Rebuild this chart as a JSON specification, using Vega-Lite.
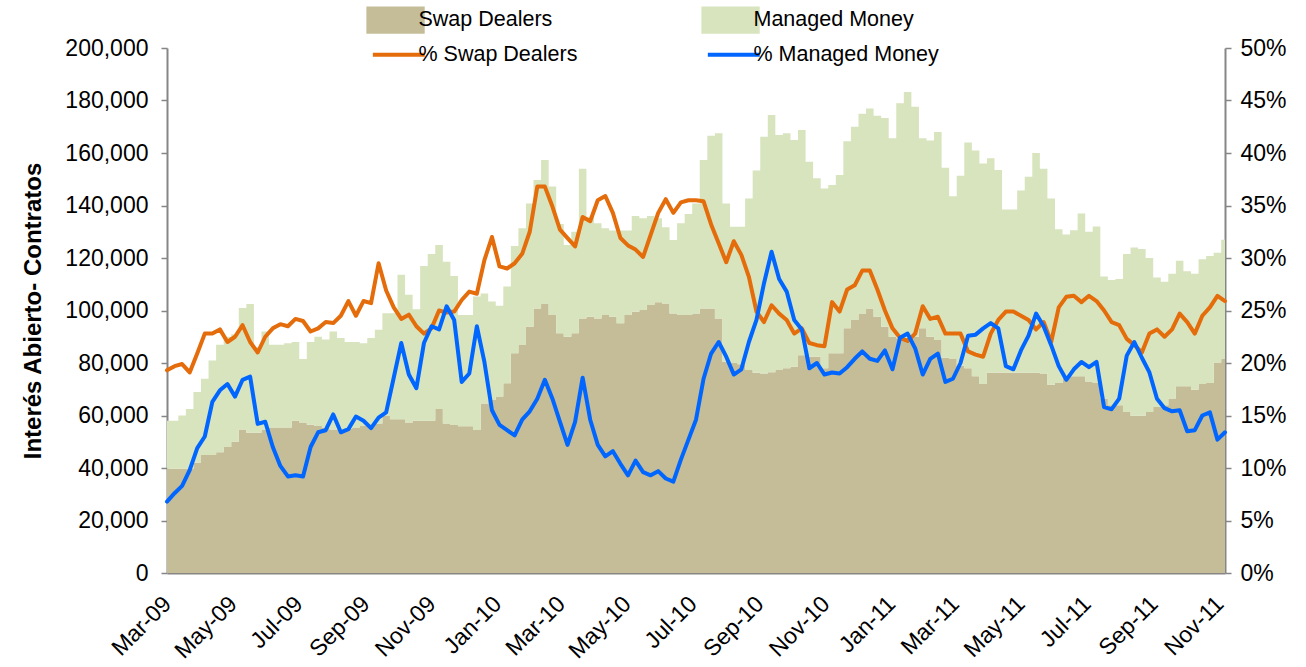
{
  "$schema": "https://vega.github.io/schema/vega-lite/v6.json",
  "width": 1058,
  "height": 525,
  "autosize": {"type": "none"},
  "padding": {"left": 167, "top": 48, "right": 81, "bottom": 94},
  "background": "white",
  "config": {
    "font": "Liberation Sans",
    "view": {"stroke": null},
    "axis": {"grid": false, "labelColor": "#000", "titleColor": "#000", "labelFont": "Liberation Sans", "titleFont": "Liberation Sans"}
  },
  "data": {"values": [
    {"date":"2009-03-03","sd":39700,"mm":18300,"psd":19.3,"pmm":6.8},
    {"date":"2009-03-10","sd":39700,"mm":18300,"psd":19.7,"pmm":7.6},
    {"date":"2009-03-17","sd":39700,"mm":20300,"psd":19.9,"pmm":8.3},
    {"date":"2009-03-24","sd":39700,"mm":22800,"psd":19.1,"pmm":9.8},
    {"date":"2009-03-31","sd":42000,"mm":27000,"psd":20.9,"pmm":11.9},
    {"date":"2009-04-07","sd":45000,"mm":29000,"psd":22.8,"pmm":13.0},
    {"date":"2009-04-14","sd":45000,"mm":36000,"psd":22.8,"pmm":16.3},
    {"date":"2009-04-21","sd":46000,"mm":41000,"psd":23.2,"pmm":17.4},
    {"date":"2009-04-28","sd":48000,"mm":42000,"psd":22.0,"pmm":18.0},
    {"date":"2009-05-05","sd":50000,"mm":41000,"psd":22.5,"pmm":16.8},
    {"date":"2009-05-12","sd":54700,"mm":46300,"psd":23.6,"pmm":18.4},
    {"date":"2009-05-19","sd":53400,"mm":49100,"psd":22.0,"pmm":18.7},
    {"date":"2009-05-26","sd":53400,"mm":32600,"psd":21.0,"pmm":14.2},
    {"date":"2009-06-02","sd":54700,"mm":37300,"psd":22.5,"pmm":14.4},
    {"date":"2009-06-09","sd":55400,"mm":31600,"psd":23.3,"pmm":12.0},
    {"date":"2009-06-16","sd":55400,"mm":31600,"psd":23.7,"pmm":10.2},
    {"date":"2009-06-23","sd":55400,"mm":32100,"psd":23.5,"pmm":9.2},
    {"date":"2009-06-30","sd":58000,"mm":30000,"psd":24.2,"pmm":9.3},
    {"date":"2009-07-07","sd":57300,"mm":24200,"psd":24.0,"pmm":9.2},
    {"date":"2009-07-14","sd":56500,"mm":31500,"psd":23.0,"pmm":12.0},
    {"date":"2009-07-21","sd":56000,"mm":34000,"psd":23.3,"pmm":13.4},
    {"date":"2009-07-28","sd":55400,"mm":33600,"psd":23.9,"pmm":13.6},
    {"date":"2009-08-04","sd":54700,"mm":37300,"psd":23.8,"pmm":15.1},
    {"date":"2009-08-11","sd":54700,"mm":34800,"psd":24.5,"pmm":13.4},
    {"date":"2009-08-18","sd":55000,"mm":33000,"psd":25.9,"pmm":13.7},
    {"date":"2009-08-25","sd":55400,"mm":32600,"psd":24.5,"pmm":14.9},
    {"date":"2009-09-01","sd":56000,"mm":31500,"psd":25.9,"pmm":14.5},
    {"date":"2009-09-08","sd":56000,"mm":33500,"psd":25.7,"pmm":13.8},
    {"date":"2009-09-15","sd":57000,"mm":35700,"psd":29.5,"pmm":14.8},
    {"date":"2009-09-22","sd":60000,"mm":39000,"psd":26.9,"pmm":15.3},
    {"date":"2009-09-29","sd":58600,"mm":40400,"psd":25.3,"pmm":18.6},
    {"date":"2009-10-06","sd":58600,"mm":55000,"psd":24.2,"pmm":21.9},
    {"date":"2009-10-13","sd":57300,"mm":48700,"psd":24.6,"pmm":18.9},
    {"date":"2009-10-20","sd":58000,"mm":42500,"psd":23.5,"pmm":17.6},
    {"date":"2009-10-27","sd":58000,"mm":59000,"psd":22.8,"pmm":21.9},
    {"date":"2009-11-03","sd":58000,"mm":63500,"psd":23.3,"pmm":23.5},
    {"date":"2009-11-10","sd":62500,"mm":62500,"psd":25.0,"pmm":23.2},
    {"date":"2009-11-17","sd":57000,"mm":61600,"psd":24.8,"pmm":25.4},
    {"date":"2009-11-24","sd":56400,"mm":56700,"psd":24.9,"pmm":24.1},
    {"date":"2009-12-01","sd":55900,"mm":42400,"psd":26.0,"pmm":18.2},
    {"date":"2009-12-08","sd":55900,"mm":42400,"psd":26.8,"pmm":19.0},
    {"date":"2009-12-15","sd":54500,"mm":50800,"psd":26.6,"pmm":23.5},
    {"date":"2009-12-22","sd":64600,"mm":41900,"psd":29.8,"pmm":20.1},
    {"date":"2009-12-29","sd":65900,"mm":37500,"psd":32.0,"pmm":15.5},
    {"date":"2010-01-05","sd":67200,"mm":34600,"psd":29.2,"pmm":14.1},
    {"date":"2010-01-12","sd":72300,"mm":36800,"psd":29.0,"pmm":13.6},
    {"date":"2010-01-19","sd":83700,"mm":40900,"psd":29.5,"pmm":13.1},
    {"date":"2010-01-26","sd":86900,"mm":44400,"psd":30.4,"pmm":14.6},
    {"date":"2010-02-02","sd":93800,"mm":47000,"psd":32.5,"pmm":15.4},
    {"date":"2010-02-09","sd":100800,"mm":48900,"psd":36.8,"pmm":16.6},
    {"date":"2010-02-16","sd":102700,"mm":54600,"psd":36.8,"pmm":18.4},
    {"date":"2010-02-23","sd":98300,"mm":48900,"psd":34.9,"pmm":16.6},
    {"date":"2010-03-02","sd":91300,"mm":41700,"psd":32.7,"pmm":14.4},
    {"date":"2010-03-09","sd":90000,"mm":35000,"psd":31.9,"pmm":12.2},
    {"date":"2010-03-16","sd":91300,"mm":38700,"psd":31.1,"pmm":14.4},
    {"date":"2010-03-23","sd":97000,"mm":57000,"psd":33.9,"pmm":18.6},
    {"date":"2010-03-30","sd":97600,"mm":38100,"psd":33.5,"pmm":14.6},
    {"date":"2010-04-06","sd":97000,"mm":36200,"psd":35.5,"pmm":12.2},
    {"date":"2010-04-13","sd":98300,"mm":33000,"psd":35.9,"pmm":11.1},
    {"date":"2010-04-20","sd":97600,"mm":32900,"psd":34.3,"pmm":11.6},
    {"date":"2010-04-27","sd":95100,"mm":35400,"psd":31.9,"pmm":10.4},
    {"date":"2010-05-04","sd":98300,"mm":32200,"psd":31.2,"pmm":9.3},
    {"date":"2010-05-11","sd":99500,"mm":36500,"psd":30.8,"pmm":10.7},
    {"date":"2010-05-18","sd":100200,"mm":34900,"psd":30.1,"pmm":9.6},
    {"date":"2010-05-25","sd":102100,"mm":33900,"psd":32.2,"pmm":9.3},
    {"date":"2010-06-01","sd":103100,"mm":32000,"psd":34.3,"pmm":9.7},
    {"date":"2010-06-08","sd":102700,"mm":29000,"psd":35.6,"pmm":9.0},
    {"date":"2010-06-15","sd":98900,"mm":28000,"psd":34.3,"pmm":8.7},
    {"date":"2010-06-22","sd":98300,"mm":34900,"psd":35.3,"pmm":10.8},
    {"date":"2010-06-29","sd":98300,"mm":38500,"psd":35.5,"pmm":12.7},
    {"date":"2010-07-06","sd":98900,"mm":41900,"psd":35.5,"pmm":14.6},
    {"date":"2010-07-13","sd":100800,"mm":56500,"psd":35.4,"pmm":18.5},
    {"date":"2010-07-20","sd":100800,"mm":65800,"psd":33.2,"pmm":20.9},
    {"date":"2010-07-27","sd":97000,"mm":70500,"psd":31.4,"pmm":22.0},
    {"date":"2010-08-03","sd":80500,"mm":60300,"psd":29.6,"pmm":20.6},
    {"date":"2010-08-10","sd":80000,"mm":51900,"psd":31.6,"pmm":18.9},
    {"date":"2010-08-17","sd":79500,"mm":52400,"psd":30.3,"pmm":19.4},
    {"date":"2010-08-24","sd":77300,"mm":65400,"psd":28.2,"pmm":22.0},
    {"date":"2010-08-31","sd":76300,"mm":77000,"psd":24.9,"pmm":24.1},
    {"date":"2010-09-07","sd":76000,"mm":90200,"psd":23.9,"pmm":27.6},
    {"date":"2010-09-14","sd":76500,"mm":98000,"psd":25.5,"pmm":30.6},
    {"date":"2010-09-21","sd":77300,"mm":89600,"psd":24.7,"pmm":28.0},
    {"date":"2010-09-28","sd":78000,"mm":89500,"psd":24.1,"pmm":26.8},
    {"date":"2010-10-05","sd":78600,"mm":86400,"psd":22.8,"pmm":24.1},
    {"date":"2010-10-12","sd":83000,"mm":85800,"psd":23.3,"pmm":23.2},
    {"date":"2010-10-19","sd":82400,"mm":74300,"psd":21.9,"pmm":19.5},
    {"date":"2010-10-26","sd":82400,"mm":68000,"psd":21.7,"pmm":20.0},
    {"date":"2010-11-02","sd":78000,"mm":68500,"psd":21.6,"pmm":18.9},
    {"date":"2010-11-09","sd":83700,"mm":64100,"psd":25.8,"pmm":19.1},
    {"date":"2010-11-16","sd":83700,"mm":67900,"psd":24.9,"pmm":19.0},
    {"date":"2010-11-23","sd":93200,"mm":71300,"psd":27.0,"pmm":19.6},
    {"date":"2010-11-30","sd":96400,"mm":73600,"psd":27.4,"pmm":20.4},
    {"date":"2010-12-07","sd":98900,"mm":76100,"psd":28.8,"pmm":21.1},
    {"date":"2010-12-14","sd":100800,"mm":76200,"psd":28.8,"pmm":20.4},
    {"date":"2010-12-21","sd":97600,"mm":76600,"psd":27.0,"pmm":20.2},
    {"date":"2010-12-28","sd":93800,"mm":79500,"psd":25.0,"pmm":21.2},
    {"date":"2011-01-04","sd":90000,"mm":75600,"psd":23.3,"pmm":19.4},
    {"date":"2011-01-11","sd":89400,"mm":89600,"psd":22.4,"pmm":22.4},
    {"date":"2011-01-18","sd":89400,"mm":93800,"psd":22.1,"pmm":22.8},
    {"date":"2011-01-25","sd":90000,"mm":87600,"psd":22.8,"pmm":21.4},
    {"date":"2011-02-01","sd":93200,"mm":72400,"psd":25.4,"pmm":18.9},
    {"date":"2011-02-08","sd":90000,"mm":74800,"psd":24.2,"pmm":20.4},
    {"date":"2011-02-15","sd":88800,"mm":79200,"psd":24.4,"pmm":20.9},
    {"date":"2011-02-22","sd":82000,"mm":72400,"psd":22.8,"pmm":18.2},
    {"date":"2011-03-01","sd":81500,"mm":62000,"psd":22.8,"pmm":18.5},
    {"date":"2011-03-08","sd":79000,"mm":72300,"psd":22.8,"pmm":20.0},
    {"date":"2011-03-15","sd":78000,"mm":86000,"psd":21.1,"pmm":22.6},
    {"date":"2011-03-22","sd":75000,"mm":86000,"psd":20.8,"pmm":22.7},
    {"date":"2011-03-29","sd":72000,"mm":84000,"psd":20.6,"pmm":23.3},
    {"date":"2011-04-05","sd":76300,"mm":81700,"psd":22.8,"pmm":23.8},
    {"date":"2011-04-12","sd":76300,"mm":77200,"psd":24.1,"pmm":23.3},
    {"date":"2011-04-19","sd":76300,"mm":62200,"psd":24.9,"pmm":19.7},
    {"date":"2011-04-26","sd":76300,"mm":62200,"psd":24.9,"pmm":19.4},
    {"date":"2011-05-03","sd":76300,"mm":69400,"psd":24.5,"pmm":21.2},
    {"date":"2011-05-10","sd":76300,"mm":74700,"psd":24.1,"pmm":22.6},
    {"date":"2011-05-17","sd":76300,"mm":83700,"psd":23.2,"pmm":24.7},
    {"date":"2011-05-24","sd":76000,"mm":78000,"psd":23.9,"pmm":23.5},
    {"date":"2011-05-31","sd":71700,"mm":71000,"psd":22.0,"pmm":21.7},
    {"date":"2011-06-07","sd":72400,"mm":58600,"psd":25.3,"pmm":19.7},
    {"date":"2011-06-14","sd":75000,"mm":54000,"psd":26.3,"pmm":18.4},
    {"date":"2011-06-21","sd":75000,"mm":55600,"psd":26.4,"pmm":19.4},
    {"date":"2011-06-28","sd":75000,"mm":62000,"psd":25.8,"pmm":20.1},
    {"date":"2011-07-05","sd":73000,"mm":57000,"psd":26.4,"pmm":19.6},
    {"date":"2011-07-12","sd":72400,"mm":59600,"psd":25.9,"pmm":20.1},
    {"date":"2011-07-19","sd":66500,"mm":46500,"psd":25.0,"pmm":15.8},
    {"date":"2011-07-26","sd":63900,"mm":47700,"psd":23.9,"pmm":15.6},
    {"date":"2011-08-02","sd":63900,"mm":48100,"psd":23.6,"pmm":16.6},
    {"date":"2011-08-09","sd":61300,"mm":60200,"psd":22.3,"pmm":20.7},
    {"date":"2011-08-16","sd":59900,"mm":64100,"psd":21.7,"pmm":22.0},
    {"date":"2011-08-23","sd":59900,"mm":63500,"psd":21.0,"pmm":20.5},
    {"date":"2011-08-30","sd":61300,"mm":58700,"psd":22.8,"pmm":19.1},
    {"date":"2011-09-06","sd":63200,"mm":49400,"psd":23.2,"pmm":16.6},
    {"date":"2011-09-13","sd":63900,"mm":47100,"psd":22.5,"pmm":15.7},
    {"date":"2011-09-20","sd":66500,"mm":47500,"psd":23.2,"pmm":15.4},
    {"date":"2011-09-27","sd":71100,"mm":47900,"psd":24.7,"pmm":15.5},
    {"date":"2011-10-04","sd":71100,"mm":43900,"psd":23.9,"pmm":13.5},
    {"date":"2011-10-11","sd":69800,"mm":44200,"psd":22.8,"pmm":13.6},
    {"date":"2011-10-18","sd":72000,"mm":47500,"psd":24.5,"pmm":15.0},
    {"date":"2011-10-25","sd":72400,"mm":48400,"psd":25.3,"pmm":15.3},
    {"date":"2011-11-01","sd":80200,"mm":41800,"psd":26.4,"pmm":12.7},
    {"date":"2011-11-08","sd":81500,"mm":45500,"psd":25.9,"pmm":13.4}
  ]},
  "layer": [
    {
      "transform": [{"fold": ["sd", "mm"], "as": ["series", "value"]}],
      "mark": {"type": "area", "interpolate": "step"},
      "encoding": {
        "x": {
          "field": "date", "type": "temporal",
          "scale": {"type": "utc", "nice": false, "domain": ["2009-03-03", "2011-11-08"]},
          "axis": {
            "title": null, "format": "%b-%y", "labelAngle": -45, "labelAlign": "right", "labelBaseline": "middle",
            "labelFontSize": 23, "labelPadding": 27, "ticks": false, "labelOverlap": false, "labelFlush": false,
            "domainColor": "#868686", "domainWidth": 2,
            "values": ["2009-03-03", "2009-05-03", "2009-07-03", "2009-09-03", "2009-11-03", "2010-01-03", "2010-03-03", "2010-05-03", "2010-07-03", "2010-09-03", "2010-11-03", "2011-01-03", "2011-03-03", "2011-05-03", "2011-07-03", "2011-09-03", "2011-11-03"]
          }
        },
        "y": {
          "field": "value", "type": "quantitative", "stack": "zero",
          "scale": {"domain": [0, 200000], "nice": false},
          "axis": {
            "title": "Interés Abierto- Contratos", "titleFontSize": 24, "titleFontWeight": "bold", "titlePadding": 19,
            "values": [0, 20000, 40000, 60000, 80000, 100000, 120000, 140000, 160000, 180000, 200000],
            "format": ",.0f", "labelFontSize": 23, "labelPadding": 13,
            "domainColor": "#868686", "domainWidth": 2, "tickColor": "#868686", "tickSize": 6, "tickWidth": 1.5
          }
        },
        "color": {
          "field": "series", "type": "nominal",
          "scale": {"domain": ["sd", "mm", "psd", "pmm"], "range": ["#C4BD97", "#D7E4BD", "#E46C0A", "#0066FF"]},
          "legend": {
            "orient": "none", "legendX": 224, "legendY": -39, "direction": "horizontal", "columns": 2, "title": null,
            "symbolSize": 1156, "labelOffset": 6, "columnPadding": 121, "rowPadding": 9,
            "labelFontSize": 21.5, "labelColor": "#000", "labelLimit": 400,
            "labelExpr": "datum.value == 'sd' ? 'Swap Dealers' : datum.value == 'mm' ? 'Managed Money' : datum.value == 'psd' ? '% Swap Dealers' : '% Managed Money'",
            "encode": {
              "symbols": {
                "update": {
                  "shape": {"signal": "(datum.value == 'psd' || datum.value == 'pmm') ? 'M-1.7,0H1.35' : 'M-2.08,-0.8H1.35V0.8H-2.08Z'"},
                  "fill": {"signal": "datum.value == 'sd' ? '#C4BD97' : datum.value == 'mm' ? '#D7E4BD' : 'transparent'"},
                  "stroke": {"signal": "datum.value == 'psd' ? '#E46C0A' : datum.value == 'pmm' ? '#0066FF' : 'transparent'"},
                  "strokeWidth": {"signal": "(datum.value == 'psd' || datum.value == 'pmm') ? 4 : 0"},
                  "opacity": {"value": 1}
                }
              }
            }
          }
        },
        "order": {"field": "series", "sort": "descending"}
      }
    },
    {
      "transform": [{"fold": ["psd", "pmm"], "as": ["series", "pct"]}],
      "mark": {"type": "line", "strokeWidth": 4, "strokeJoin": "round", "strokeCap": "round"},
      "encoding": {
        "x": {"field": "date", "type": "temporal"},
        "y": {
          "field": "pct", "type": "quantitative",
          "scale": {"domain": [0, 50], "nice": false},
          "axis": {
            "orient": "right", "title": null,
            "values": [0, 5, 10, 15, 20, 25, 30, 35, 40, 45, 50],
            "labelExpr": "datum.value + '%'", "labelFontSize": 23, "labelPadding": 9,
            "domainColor": "#868686", "domainWidth": 2, "tickColor": "#868686", "tickSize": 6, "tickWidth": 1.5
          }
        },
        "color": {"field": "series", "type": "nominal"}
      }
    }
  ],
  "resolve": {"scale": {"y": "independent"}, "axis": {"y": "independent"}}
}
